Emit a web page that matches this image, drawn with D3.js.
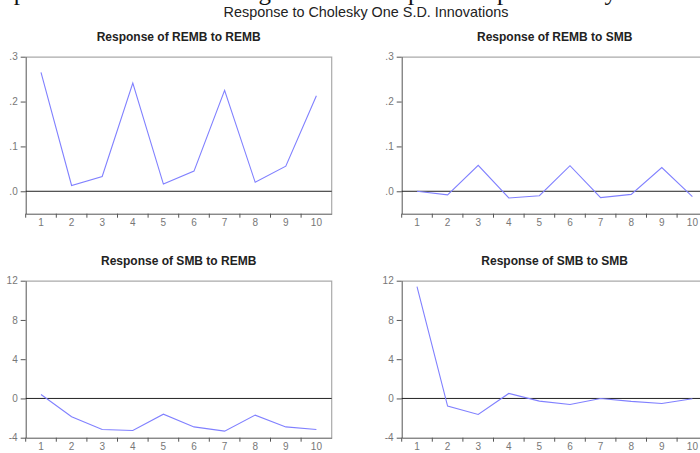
<!DOCTYPE html>
<html>
<head>
<meta charset="utf-8">
<script src="https://cdn.jsdelivr.net/npm/d3@7"></script>
<style>
  body { margin: 0; background: #fff; }
  svg { display: block; font-family: "Liberation Sans", Arial, sans-serif; }
</style>
</head>
<body>
<div id="svg-area"></div>
<script>
// Data
var periods = [1, 2, 3, 4, 5, 6, 7, 8, 9, 10];

var rembToRemb = [0.265, 0.013, 0.033, 0.241, 0.016, 0.045, 0.225, 0.020, 0.056, 0.213];
var rembToSmb  = [0.000, -0.008, 0.058, -0.015, -0.010, 0.057, -0.014, -0.007, 0.053, -0.012];
var smbToRemb  = [0.4, -1.87, -3.16, -3.27, -1.6, -2.9, -3.33, -1.7, -2.9, -3.16];
var smbToSmb   = [11.4, -0.78, -1.63, 0.51, -0.27, -0.61, 0.0, -0.3, -0.51, -0.03];

var remb_yTicks = [0, 0.1, 0.2, 0.3];
var smb_yTicks = [-4, 0, 4, 8, 12];

var panelTitles = ["Response of REMB to REMB", "Response of REMB to SMB",
                   "Response of SMB to REMB", "Response of SMB to SMB"];

var mainTitle = "Response to Cholesky One S.D. Innovations";
var cutText = "represents a schematic diagram of the impulse response analysis.";

// SVG area
var svgWidth = 700;
var svgHeight = 453;

var svg = d3.select("#svg-area")
  .append("svg")
  .attr("width", svgWidth)
  .attr("height", svgHeight);

// text line of the page above, cut at the top edge
svg.append("text")
  .attr("x", -6)
  .attr("y", 0)
  .attr("textLength", 656)
  .attr("lengthAdjust", "spacing")
  .style("font-family", "'Liberation Serif', 'Times New Roman', serif")
  .style("font-size", "25px")
  .attr("fill", "#111")
  .text(cutText);

svg.append("text")
  .attr("x", 366)
  .attr("y", 17)
  .attr("text-anchor", "middle")
  .style("font-size", "14.4px")
  .attr("fill", "#222")
  .text(mainTitle);

var panelW = 306;
var panelH = 157;

var panels = [
  { title: panelTitles[0], values: rembToRemb, x: 25.7, y: 56.7, domain: [-0.05, 0.3], ticks: remb_yTicks, fmt: d => d3.format(".1f")(d).replace(/^0/, "") },
  { title: panelTitles[1], values: rembToSmb, x: 401.7, y: 56.7, domain: [-0.05, 0.3], ticks: remb_yTicks, fmt: d => d3.format(".1f")(d).replace(/^0/, "") },
  { title: panelTitles[2], values: smbToRemb, x: 25.7, y: 280.7, domain: [-4, 12], ticks: smb_yTicks, fmt: d => d },
  { title: panelTitles[3], values: smbToSmb, x: 401.7, y: 280.7, domain: [-4, 12], ticks: smb_yTicks, fmt: d => d }
];

panels.forEach(function(p) {
  var g = svg.append("g")
    .attr("transform", `translate(${p.x}, ${p.y})`);

  var xScale = d3.scaleBand()
    .domain(periods)
    .range([0, panelW]);

  var yScale = d3.scaleLinear()
    .domain(p.domain)
    .range([panelH, 0]);

  // panel title
  g.append("text")
    .attr("x", panelW / 2)
    .attr("y", -16)
    .attr("text-anchor", "middle")
    .style("font-size", "12px")
    .style("font-weight", "bold")
    .attr("fill", "#222")
    .text(p.title);

  // top and right frame
  g.append("path")
    .attr("d", `M0,0.5H${panelW}V${panelH}`)
    .attr("fill", "none")
    .attr("stroke", "#aaa")
    .attr("stroke-width", 1.2);

  // y axis
  var leftAxis = d3.axisLeft(yScale)
    .tickValues(p.ticks)
    .tickFormat(p.fmt)
    .tickSize(5)
    .tickSizeOuter(0);

  var yAxis = g.append("g").call(leftAxis);
  yAxis.select(".domain").attr("stroke", "#555");
  yAxis.selectAll(".tick line").attr("stroke", "#555");
  yAxis.selectAll("text")
    .attr("fill", "#777")
    .attr("x", -8)
    .style("font-size", "10px")
    .style("font-family", "'Liberation Sans', Arial, sans-serif");

  // x axis: labels centred in bands, ticks at band edges
  var bottomAxis = d3.axisBottom(xScale)
    .tickSize(0)
    .tickSizeOuter(0)
    .tickPadding(5);

  var xAxis = g.append("g")
    .attr("transform", `translate(0, ${panelH})`)
    .call(bottomAxis);
  xAxis.select(".domain").attr("stroke", "#555");
  xAxis.selectAll("text")
    .attr("fill", "#777")
    .style("font-size", "10px")
    .style("font-family", "'Liberation Sans', Arial, sans-serif");

  xAxis.selectAll(".edge")
    .data(periods)
    .enter()
    .append("line")
    .attr("x1", d => xScale(d))
    .attr("x2", d => xScale(d))
    .attr("y1", 0)
    .attr("y2", 4)
    .attr("stroke", "#555");

  // zero line
  g.append("line")
    .attr("x1", 0)
    .attr("x2", panelW)
    .attr("y1", yScale(0))
    .attr("y2", yScale(0))
    .attr("stroke", "#222")
    .attr("stroke-width", 1);

  // response line
  var line = d3.line()
    .x((d, i) => xScale(periods[i]) + xScale.bandwidth() / 2)
    .y(d => yScale(d));

  g.append("path")
    .datum(p.values)
    .attr("d", line)
    .attr("fill", "none")
    .attr("stroke", "#8080ff")
    .attr("stroke-width", 1.1);
});
</script>
</body>
</html>
